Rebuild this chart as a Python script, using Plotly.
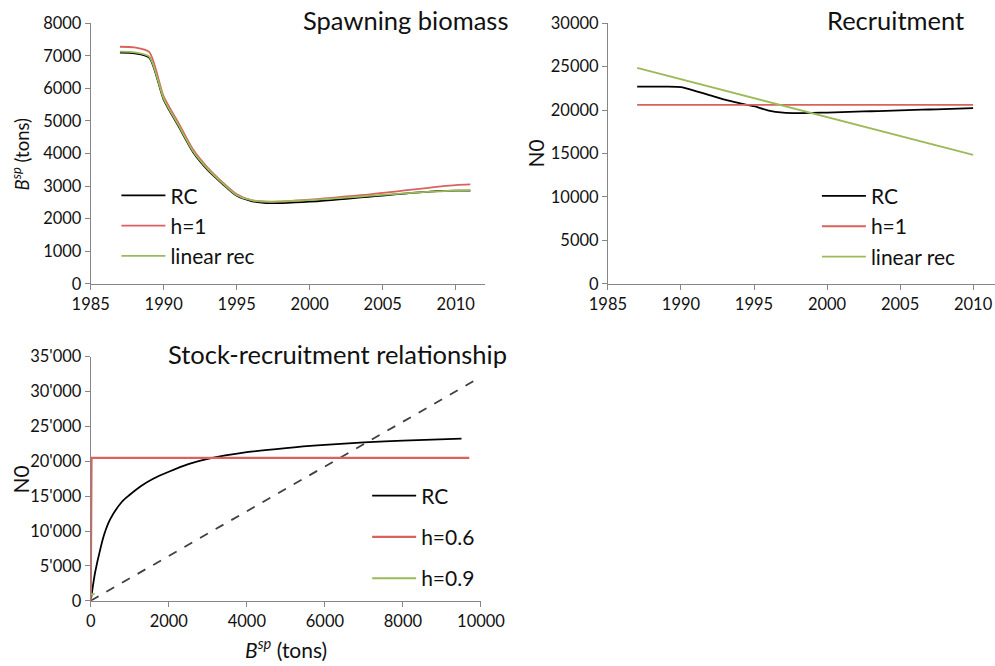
import plotly.graph_objects as go

# ---------------- data ----------------
sb_years = [1987, 1988, 1989, 1990, 1991, 1992, 1993, 1994, 1995, 1996, 1997, 1998, 1999,
            2000, 2001, 2002, 2003, 2004, 2005, 2006, 2007, 2008, 2009, 2010, 2011]
sb_rc = [7100, 7080, 6950, 5650, 4850, 4050, 3500, 3080, 2700, 2540, 2480, 2480, 2500,
         2520, 2550, 2590, 2630, 2670, 2710, 2750, 2790, 2820, 2850, 2860, 2860]
sb_h1 = [7280, 7260, 7120, 5750, 4950, 4130, 3570, 3130, 2750, 2570, 2520, 2520, 2550,
         2580, 2620, 2660, 2700, 2740, 2790, 2840, 2890, 2940, 2990, 3030, 3050]
sb_lin = [7130, 7110, 6980, 5680, 4880, 4080, 3530, 3100, 2720, 2570, 2520, 2530, 2550,
          2570, 2600, 2630, 2660, 2700, 2730, 2760, 2790, 2820, 2840, 2860, 2870]

rec_years = [1987, 1988, 1989, 1990, 1991, 1992, 1993, 1994, 1995, 1996, 1997, 1998,
             1999, 2000, 2001, 2002, 2003, 2004, 2005, 2006, 2007, 2008, 2009, 2010]
rec_rc = [22700, 22700, 22700, 22650, 22200, 21700, 21200, 20800, 20450, 19950, 19700, 19650,
          19680, 19720, 19770, 19820, 19870, 19920, 19970, 20020, 20070, 20120, 20170, 20220]
rec_h1_years = [1987, 2010]
rec_h1 = [20600, 20600]
rec_lin_years = [1987, 2010]
rec_lin = [24860, 14830]

sr_b_rc = [0, 50, 110, 240, 350, 500, 800, 1000, 1300, 1600, 2000, 2500, 3000, 4000, 5000,
           6000, 7000, 8000, 9500]
sr_rc = [0, 1900, 4000, 7300, 9600, 11700, 14200, 15200, 16500, 17500, 18500, 19600, 20350,
         21300, 21900, 22350, 22700, 22950, 23240]
sr_b_h06 = [0, 20, 100, 9700]
sr_h06 = [0, 20500, 20500, 20500]
sr_b_h09 = [0, 100]
sr_h09 = [950, 950]
sr_b_rep = [0, 10000]
sr_rep = [0, 32100]

sb_yticks = [0, 1000, 2000, 3000, 4000, 5000, 6000, 7000, 8000]
rec_yticks = [0, 5000, 10000, 15000, 20000, 25000, 30000]
sr_yticks = [0, 5000, 10000, 15000, 20000, 25000, 30000, 35000]
sr_yticktext = ["0", "5'000", "10'000", "15'000", "20'000", "25'000", "30'000", "35'000"]
sr_xticks = [0, 2000, 4000, 6000, 8000, 10000]
year_ticks = [1985, 1990, 1995, 2000, 2005, 2010]

# ---------------- styles ----------------
BLACK = "#000000"
RED = "#d9625e"
GREEN = "#9bbb59"
AX = "#868686"
FONT = "Lato, 'Open Sans', sans-serif"
LW = 1.8

fig = go.Figure()

# Panel 1: spawning biomass
for name, ys, col, grp in [("RC", sb_rc, BLACK, "a1"), ("h=1", sb_h1, RED, "a2"),
                           ("linear rec", sb_lin, GREEN, "a3")]:
    fig.add_trace(go.Scatter(x=sb_years, y=ys, mode="lines", name=name,
                             line=dict(color=col, width=LW, shape="spline", smoothing=0.7),
                             xaxis="x", yaxis="y", legend="legend", legendgroup=grp))

# Panel 2: recruitment
fig.add_trace(go.Scatter(x=rec_years, y=rec_rc, mode="lines", name="RC",
                         line=dict(color=BLACK, width=LW, shape="spline", smoothing=0.5),
                         xaxis="x2", yaxis="y2", legend="legend2", legendgroup="b1"))
fig.add_trace(go.Scatter(x=rec_h1_years, y=rec_h1, mode="lines", name="h=1",
                         line=dict(color=RED, width=LW),
                         xaxis="x2", yaxis="y2", legend="legend2", legendgroup="b2"))
fig.add_trace(go.Scatter(x=rec_lin_years, y=rec_lin, mode="lines", name="linear rec",
                         line=dict(color=GREEN, width=LW),
                         xaxis="x2", yaxis="y2", legend="legend2", legendgroup="b3"))

# Panel 3: stock-recruitment
fig.add_trace(go.Scatter(x=sr_b_rep, y=sr_rep, mode="lines", showlegend=False,
                         line=dict(color="#404040", width=LW, dash="dash"),
                         xaxis="x3", yaxis="y3"))
fig.add_trace(go.Scatter(x=sr_b_rc, y=sr_rc, mode="lines", name="RC",
                         line=dict(color=BLACK, width=LW, shape="spline", smoothing=0.8),
                         xaxis="x3", yaxis="y3", legend="legend3", legendgroup="c1"))
fig.add_trace(go.Scatter(x=sr_b_h06, y=sr_h06, mode="lines", name="h=0.6",
                         line=dict(color=RED, width=2.2),
                         xaxis="x3", yaxis="y3", legend="legend3", legendgroup="c2"))
fig.add_trace(go.Scatter(x=sr_b_h09, y=sr_h09, mode="lines", name="h=0.9",
                         line=dict(color=GREEN, width=LW),
                         xaxis="x3", yaxis="y3", legend="legend3", legendgroup="c3"))

tickfont = dict(family=FONT, size=16.5, color="#111111")
axbase = dict(showgrid=False, zeroline=False, showline=True, linecolor=AX, linewidth=1,
              ticks="outside", ticklen=5, tickcolor=AX, tickfont=tickfont,
              automargin=False, tickformat="d")

legfont = dict(family=FONT, size=21, color="#111111")
legbase = dict(font=legfont, bgcolor="rgba(0,0,0,0)", borderwidth=0,
               traceorder="grouped", itemwidth=44, xanchor="left", yanchor="top")

TF = dict(family=FONT, size=25.5, color="#111111")

fig.update_layout(
    width=995, height=666,
    margin=dict(l=0, r=0, t=0, b=0, autoexpand=False),
    paper_bgcolor="white", plot_bgcolor="white",
    font=dict(family=FONT, color="#111111"),
    xaxis=dict(axbase, domain=[0.0912, 0.4874], range=[1985, 2012], tickvals=year_ticks,
               anchor="y"),
    yaxis=dict(axbase, domain=[0.574, 0.965], range=[0, 8000], tickvals=sb_yticks,
               anchor="x"),
    xaxis2=dict(axbase, domain=[0.611, 1.0], range=[1985, 2011.5], tickvals=year_ticks,
                anchor="y2"),
    yaxis2=dict(axbase, domain=[0.574, 0.965], range=[0, 30000], tickvals=rec_yticks,
                anchor="x2"),
    xaxis3=dict(axbase, domain=[0.0912, 0.4834], range=[0, 10000], tickvals=sr_xticks,
                anchor="y3"),
    yaxis3=dict(axbase, domain=[0.098, 0.4644], range=[0, 35000], tickvals=sr_yticks,
                ticktext=sr_yticktext, anchor="x3"),
    legend=dict(legbase, x=0.117, y=0.737, tracegroupgap=0),
    legend2=dict(legbase, x=0.821, y=0.736, tracegroupgap=0),
    legend3=dict(legbase, x=0.369, y=0.286, tracegroupgap=11),
    annotations=[
        dict(text="Spawning biomass", x=0.513, y=0.97, xref="paper", yref="paper",
             xanchor="right", yanchor="middle", showarrow=False, font=TF),
        dict(text="Recruitment", x=0.9, y=0.97, xref="paper", yref="paper",
             xanchor="center", yanchor="middle", showarrow=False, font=TF),
        dict(text="Stock-recruitment relationship", x=0.512, y=0.468, xref="paper", yref="paper",
             xanchor="right", yanchor="middle", showarrow=False, font=TF),
        dict(text="<i>B</i><sup><i>sp</i></sup> (tons)", x=0.021, y=0.768, xref="paper",
             yref="paper", textangle=-90, xanchor="center", yanchor="middle", showarrow=False,
             font=dict(family=FONT, size=18.5, color="#111111")),
        dict(text="N0", x=0.538, y=0.77, xref="paper", yref="paper", textangle=-90,
             xanchor="center", yanchor="middle", showarrow=False,
             font=dict(family=FONT, size=21, color="#111111")),
        dict(text="N0", x=0.021, y=0.28, xref="paper", yref="paper", textangle=-90,
             xanchor="center", yanchor="middle", showarrow=False,
             font=dict(family=FONT, size=21, color="#111111")),
        dict(text="<i>B</i><sup><i>sp</i></sup> (tons)", x=0.287, y=0.027, xref="paper",
             yref="paper", xanchor="center", yanchor="middle", showarrow=False,
             font=dict(family=FONT, size=21, color="#111111")),
    ],
)

fig.write_html("out.html", config={"displayModeBar": False},
               post_script="document.body.style.margin='0';document.body.style.overflow='hidden';")
